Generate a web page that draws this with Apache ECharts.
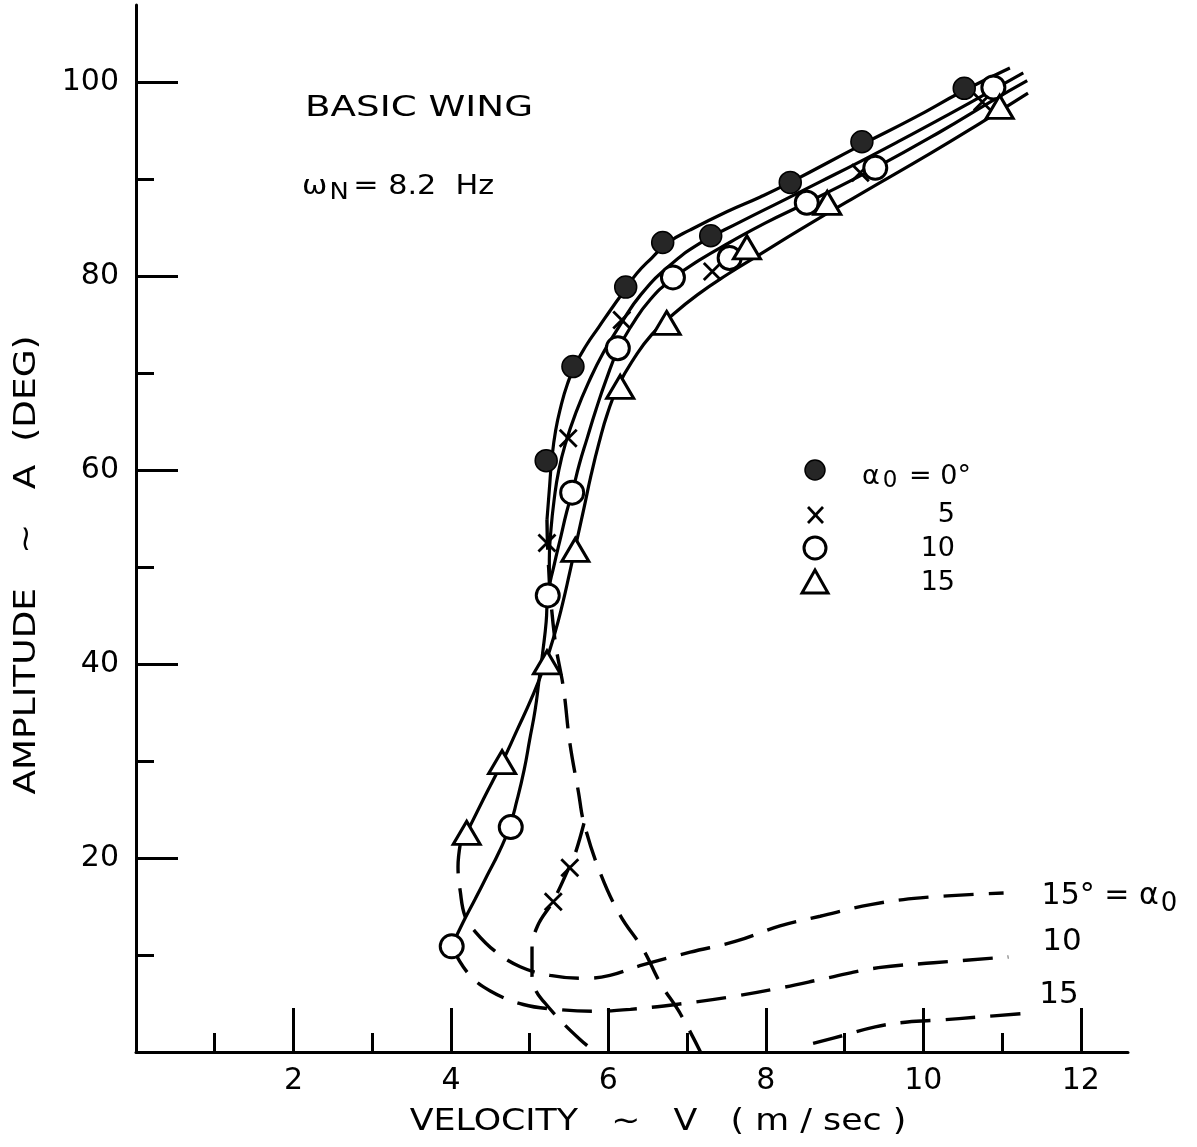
<!DOCTYPE html>
<html>
<head>
<meta charset="utf-8">
<script src="https://cdn.jsdelivr.net/npm/echarts@6/dist/echarts.min.js"></script>
<style>
html,body{margin:0;padding:0;background:#fff;}
#chart{width:1197px;height:1147px;}
</style>
</head>
<body>
<div id="chart"></div>
<script>
// ---- axis ticks ----
const velocityMajorTicks = [2, 4, 6, 8, 10, 12];
const velocityMinorTicks = [1, 3, 5, 7, 9, 11];
const amplitudeMajorTicks = [20, 40, 60, 80, 100];
const amplitudeMinorTicks = [10, 30, 50, 70, 90];

// ---- measured points [velocity m/s, amplitude deg] ----
const alpha0Points = [[5.21,61.0],[5.55,70.7],[6.22,78.9],[6.69,83.5],[7.30,84.2],[8.31,89.7],[9.22,93.9],[10.52,99.4]];
const alpha5Points = [[5.30,15.5],[5.51,19.0],[5.22,52.5],[5.49,63.3],[6.17,75.5],[7.32,80.5],[9.20,90.7],[10.75,98.0]];
const alpha10Points = [[4.01,10.9],[4.76,23.2],[5.23,47.1],[5.54,57.7],[6.12,72.6],[6.82,79.9],[7.54,81.9],[8.52,87.6],[9.39,91.2],[10.89,99.5]];
const alpha15Points = [[4.20,22.6],[4.65,29.9],[5.22,40.2],[5.58,51.8],[6.15,68.6],[6.74,75.2],[7.76,83.0],[8.78,87.6],[10.97,97.5]];

// ---- faired solid curves (stable branches) ----
const alpha0Curve = [[5.22,54.9],[5.25,58.0],[5.28,61.0],[5.33,64.1],[5.40,66.7],[5.48,68.9],[5.58,70.9],[5.72,72.9],[5.88,74.8],[6.05,76.8],[6.21,78.6],[6.36,80.3],[6.55,81.9],[6.76,83.5],[7.04,84.8],[7.51,86.7],[7.93,88.2],[8.31,89.7],[9.22,93.6],[9.87,96.3],[10.50,99.1],[11.10,101.5]];
const alpha5Curve = [[5.25,47.7],[5.25,50.8],[5.27,53.8],[5.31,56.9],[5.37,60.0],[5.46,62.9],[5.59,66.0],[5.75,69.1],[5.94,72.2],[6.15,75.0],[6.41,78.1],[6.76,81.0],[7.16,83.4],[7.67,85.6],[8.21,87.8],[8.70,89.8],[9.21,91.9],[9.68,93.9],[10.16,96.0],[10.59,97.9],[11.27,101.0]];
const alpha10Curve = [[4.01,10.9],[4.15,13.3],[4.31,15.8],[4.46,18.2],[4.61,20.6],[4.74,23.1],[4.84,26.0],[4.93,29.1],[5.00,32.2],[5.07,35.3],[5.12,38.4],[5.17,41.5],[5.21,44.4],[5.23,47.1],[5.31,50.2],[5.40,53.3],[5.47,55.7],[5.54,57.7],[5.63,60.6],[5.73,63.3],[5.84,66.2],[5.97,69.3],[6.12,72.4],[6.30,75.0],[6.53,77.6],[6.82,79.8],[7.16,81.7],[7.54,83.5],[7.99,85.5],[8.52,87.6],[9.39,91.2],[10.21,94.9],[10.89,98.2],[11.32,100.2]];
const alpha15Curve = [[4.20,22.6],[4.42,26.2],[4.64,29.7],[4.84,33.2],[5.03,36.6],[5.19,39.9],[5.32,43.2],[5.42,46.3],[5.51,49.5],[5.60,52.8],[5.69,56.1],[5.78,59.5],[5.88,62.8],[5.99,65.9],[6.13,68.8],[6.33,71.6],[6.55,74.0],[6.81,76.0],[7.13,78.1],[7.51,80.2],[7.93,82.3],[8.43,84.8],[9.20,88.5],[10.09,92.7],[10.72,95.8],[11.33,98.9]];

// ---- dashed curves (unstable / lower branches) ----
const dashedUpperBranch = [[5.22,54.9],[5.24,50.1],[5.32,42.6],[5.43,37.5],[5.51,31.9],[5.62,26.8],[5.69,23.6],[5.90,18.4],[6.15,14.1],[6.44,10.6],[6.66,7.1],[6.91,4.0],[7.17,0]];
const dashedAlpha5Branch = [[5.69,23.6],[5.58,20.5],[5.51,19.2],[5.30,15.6],[5.10,13.0],[5.03,10.6],[5.03,7.9],[5.08,6.3],[5.20,5.0],[5.41,3.1],[5.64,1.3],[5.83,0]];
const dashedAlpha15 = [[4.12,21.5],[4.09,19.1],[4.12,16.5],[4.18,14.0],[4.31,12.4],[4.56,10.4],[4.88,8.8],[5.26,7.9],[5.68,7.6],[6.02,7.9],[6.40,8.9],[7.04,10.3],[7.61,11.4],[8.18,13.0],[8.69,14.0],[9.33,15.2],[9.96,15.9],[11.02,16.4]];
const dashedAlpha10 = [[4.01,10.9],[4.22,8.1],[4.50,6.3],[4.92,4.9],[5.35,4.4],[5.79,4.2],[6.28,4.4],[6.95,5.0],[7.64,5.8],[8.18,6.6],[8.82,7.7],[9.43,8.7],[10.13,9.2],[11.08,9.8]];
const dashedLower15 = [[8.60,0.9],[8.98,1.7],[9.39,2.6],[9.80,3.1],[10.22,3.3],[10.69,3.6],[11.32,4.0]];

// ---- texts ----
const titleText = 'BASIC WING';
const freqText = '{m|ω}{s|N}{m|= 8.2  Hz}';
const xAxisTitle = 'VELOCITY   ~   V   ( m / sec )';
const yAxisTitle = 'AMPLITUDE   ~   A  (DEG)';

const FONT = '"DejaVu Sans", sans-serif';
const INK = '#000';

const chart = echarts.init(document.getElementById('chart'), null, {renderer: 'canvas'});

function solidCurve(name, data) {
  return {name, type: 'line', data, smooth: 0.5, symbol: 'none', showSymbol: false,
    lineStyle: {color: INK, width: 3.2}, z: 2, silent: true};
}
function dashedCurve(name, data, endLabel) {
  const s = {name, type: 'line', data, smooth: 0.4, symbol: 'none', showSymbol: false,
    lineStyle: {color: INK, width: 3.4, type: [30, 15]}, z: 2, silent: true};
  if (endLabel) s.endLabel = endLabel;
  return s;
}
const richSub = {
  m: {fontFamily: FONT, fontSize: 30, color: INK, lineHeight: 36, verticalAlign: 'top'},
  s: {fontFamily: FONT, fontSize: 26, color: INK, lineHeight: 26, verticalAlign: 'bottom', padding: [20, 0, 0, 2]}
};

const axisBase = {type: 'value', splitLine: {show: false}};

const option = {
  animation: false,
  backgroundColor: '#ffffff',
  grid: {left: 136, top: 5, width: 992, height: 1047},
  xAxis: [
    Object.assign({}, axisBase, {
      min: 0, max: 12.6, position: 'bottom',
      axisLine: {show: true, onZero: false, lineStyle: {color: INK, width: 3}},
      axisTick: {show: true, inside: true, length: 44, customValues: velocityMajorTicks, lineStyle: {color: INK, width: 3}},
      axisLabel: {show: true, customValues: velocityMajorTicks, margin: 14, color: INK, fontFamily: FONT, fontSize: 30}
    }),
    Object.assign({}, axisBase, {
      min: 0, max: 12.6, position: 'bottom',
      axisLine: {show: false, onZero: false},
      axisTick: {show: true, inside: true, length: 19, customValues: velocityMinorTicks, lineStyle: {color: INK, width: 3}},
      axisLabel: {show: false}
    })
  ],
  yAxis: [
    Object.assign({}, axisBase, {
      min: 0, max: 108, position: 'left',
      axisLine: {show: true, onZero: false, lineStyle: {color: INK, width: 3}},
      axisTick: {show: true, inside: true, length: 42, customValues: amplitudeMajorTicks, lineStyle: {color: INK, width: 3}},
      axisLabel: {show: true, customValues: amplitudeMajorTicks, margin: 17, color: INK, fontFamily: FONT, fontSize: 30}
    }),
    Object.assign({}, axisBase, {
      min: 0, max: 108, position: 'left',
      axisLine: {show: false, onZero: false},
      axisTick: {show: true, inside: true, length: 18, customValues: amplitudeMinorTicks, lineStyle: {color: INK, width: 3}},
      axisLabel: {show: false}
    })
  ],
  series: [
    solidCurve('α0 = 0° curve', alpha0Curve),
    solidCurve('α0 = 5° curve', alpha5Curve),
    solidCurve('α0 = 10° curve', alpha10Curve),
    solidCurve('α0 = 15° curve', alpha15Curve),
    dashedCurve('unstable upper', dashedUpperBranch),
    dashedCurve('unstable α0 = 5°', dashedAlpha5Branch),
    dashedCurve('unstable α0 = 15°', dashedAlpha15, {
      show: true, formatter: '{m|15° = α}{s|0}', distance: 38, offset: [0, 6], rich: richSub
    }),
    dashedCurve('unstable α0 = 10°', dashedAlpha10, {
      show: true, formatter: '10', distance: 34, offset: [0, -15], color: INK, fontFamily: FONT, fontSize: 31
    }),
    dashedCurve('lower α0 = 15°', dashedLower15, {
      show: true, formatter: '15', distance: 12, offset: [0, -18], color: INK, fontFamily: FONT, fontSize: 31
    }),
    {name: 'α0 = 0°', type: 'scatter', data: alpha0Points, symbol: 'circle', symbolSize: 22, z: 5,
      itemStyle: {color: '#262626', borderColor: '#000', borderWidth: 1.5, opacity: 1}},
    {name: 'α0 = 5°', type: 'scatter', data: alpha5Points, symbol: 'path://M0,0L20,20M20,0L0,20', symbolSize: 17, z: 5,
      itemStyle: {color: 'rgba(0,0,0,0)', borderColor: INK, borderWidth: 2.8, opacity: 1}},
    {name: 'α0 = 10°', type: 'scatter', data: alpha10Points, symbol: 'circle', symbolSize: 23, z: 5,
      itemStyle: {color: '#fff', borderColor: INK, borderWidth: 3, opacity: 1}},
    {name: 'α0 = 15°', type: 'scatter', data: alpha15Points, symbol: 'triangle', symbolSize: [27, 23], z: 5,
      itemStyle: {color: '#fff', borderColor: INK, borderWidth: 3, opacity: 1}}
  ],
  graphic: [
    {type: 'text', left: 305, top: 95, scaleX: 1.33, style: {text: titleText, font: '28px ' + FONT, fill: INK}},
    {type: 'text', left: 302, top: 164, scaleX: 1.12, style: {text: freqText, fill: INK, rich: {
      m: {fontFamily: FONT, fontSize: 27, color: INK, lineHeight: 32, verticalAlign: 'top'},
      s: {fontFamily: FONT, fontSize: 23, color: INK, lineHeight: 24, verticalAlign: 'bottom', padding: [18, 4, 0, 2]}
    }}},
    // axis titles
    {type: 'text', x: 658, y: 1122, scaleX: 1.16, style: {text: xAxisTitle, font: '30px ' + FONT, fill: INK, align: 'center', verticalAlign: 'middle', textAlign: 'center', textVerticalAlign: 'middle'}},
    {type: 'text', x: 27, y: 565, rotation: Math.PI / 2, scaleX: 1.16, style: {text: yAxisTitle, font: '31px ' + FONT, fill: INK, align: 'center', verticalAlign: 'middle', textAlign: 'center', textVerticalAlign: 'middle'}},
    // legend
    {type: 'circle', shape: {cx: 815, cy: 470, r: 10}, style: {fill: '#262626', stroke: '#000', lineWidth: 1.5}},
    {type: 'line', shape: {x1: 808, y1: 507, x2: 823, y2: 523}, style: {stroke: INK, lineWidth: 2.8}},
    {type: 'line', shape: {x1: 823, y1: 507, x2: 808, y2: 523}, style: {stroke: INK, lineWidth: 2.8}},
    {type: 'circle', shape: {cx: 815, cy: 548, r: 11}, style: {fill: '#fff', stroke: INK, lineWidth: 3}},
    {type: 'polygon', shape: {points: [[815, 570], [828, 593], [802, 593]]}, style: {fill: '#fff', stroke: INK, lineWidth: 3}},
    {type: 'text', left: 862, top: 456, style: {text: '{m|α}{s|0}{m| = 0°}', rich: {
      m: {fontFamily: FONT, fontSize: 27, color: INK, lineHeight: 30, verticalAlign: 'top'},
      s: {fontFamily: FONT, fontSize: 23, color: INK, lineHeight: 24, verticalAlign: 'bottom', padding: [14, 3, 0, 3]}
    }}},
    {type: 'text', x: 955, y: 515, style: {text: '5', font: '27px ' + FONT, fill: INK, align: 'right', verticalAlign: 'middle', textAlign: 'right', textVerticalAlign: 'middle'}},
    {type: 'text', x: 955, y: 549, style: {text: '10', font: '27px ' + FONT, fill: INK, align: 'right', verticalAlign: 'middle', textAlign: 'right', textVerticalAlign: 'middle'}},
    {type: 'text', x: 955, y: 583, style: {text: '15', font: '27px ' + FONT, fill: INK, align: 'right', verticalAlign: 'middle', textAlign: 'right', textVerticalAlign: 'middle'}}
  ]
};
chart.setOption(option);
</script>
</body>
</html>
